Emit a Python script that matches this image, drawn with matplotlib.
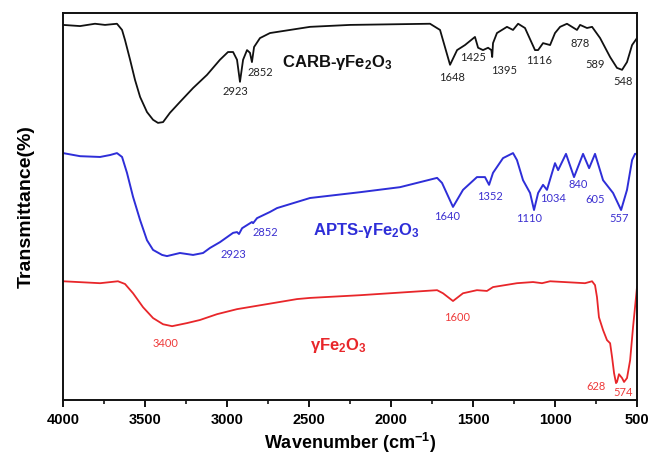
import matplotlib
matplotlib.use("Agg")
import matplotlib.pyplot as plt
from matplotlib.ticker import MultipleLocator

plt.rcParams['font.family'] = ['Liberation Sans', 'DejaVu Sans']
plt.rcParams['mathtext.fontset'] = 'custom'
plt.rcParams['mathtext.rm'] = 'Liberation Sans'
plt.rcParams['mathtext.bf'] = 'Liberation Sans:bold'
plt.rcParams['mathtext.it'] = 'Liberation Sans:italic'

# ---------------- data (wavenumber cm^-1, transmittance arbitrary %) ----------------
carb_wn = [4000, 3896, 3805, 3744, 3671, 3640, 3622, 3591, 3561, 3530, 3488, 3451, 3421,
           3390, 3348, 3287, 3207, 3122, 3043, 2994, 2963, 2939, 2921, 2902, 2878, 2860,
           2848, 2835, 2799, 2738, 2494, 2250, 1762, 1701, 1640,
           1597, 1549, 1488, 1469, 1439, 1408, 1388, 1383, 1378, 1354, 1293, 1256, 1225,
           1183, 1122, 1103, 1073, 1030, 1000, 969, 927, 866, 847, 805, 774, 725, 664,
           622, 591, 561, 530, 500]
carb_t = [96.9, 96.6, 97.2, 96.9, 97.2, 95.6, 93.0, 87.9, 82.7, 78.3, 74.4, 72.4, 71.6,
          71.8, 74.2, 77.0, 80.6, 84.0, 87.9, 89.9, 89.9, 87.9, 82.2, 87.9, 90.4, 89.7,
          87.3, 91.2, 93.5, 94.8, 96.4, 96.9, 97.2, 95.6, 86.6,
          90.4, 91.7, 93.8, 91.0, 90.4, 91.0, 90.4, 88.6, 92.2, 94.8, 96.4, 95.6, 97.2,
          96.1, 90.4, 90.4, 92.2, 91.7, 94.8, 96.4, 97.2, 95.6, 96.9, 96.1, 96.4, 93.5, 88.6,
          85.8, 85.3, 87.3, 91.7, 93.5]

apts_wn = [4000, 3896, 3774, 3713, 3671, 3640, 3610, 3573, 3530, 3488, 3451, 3396, 3366,
           3287, 3207, 3146, 3104, 3043, 2963, 2939, 2927, 2908, 2878, 2848, 2841, 2817,
           2738, 2695, 2494, 2189, 1945, 1719,
           1689, 1622, 1561, 1476, 1427, 1402, 1378, 1317, 1256, 1232, 1195, 1152, 1128,
           1103, 1073, 1049, 1018, 1000, 981, 933, 884, 829, 792, 756, 707, 646, 597, 561,
           530, 512, 500]
apts_t = [63.8, 63.0, 62.8, 63.3, 63.8, 62.8, 58.7, 52.5, 46.5, 41.3, 38.8, 37.5, 37.2,
          38.0, 37.5, 38.0, 39.3, 40.8, 43.2, 43.4, 42.9, 44.4, 45.2, 46.0, 45.7, 47.0,
          48.6, 49.6, 52.2, 53.7, 55.0, 57.4,
          56.1, 49.9, 54.3, 57.6, 57.6, 55.6, 58.7, 62.5, 63.8, 62.0, 56.8, 53.5, 49.1,
          53.5, 55.6, 54.3, 58.7, 61.2, 59.4, 63.6, 57.6, 63.6, 59.9, 63.6, 56.8, 53.5, 49.1, 54.3,
          62.0, 63.6, 63.6]

fe_wn = [4000, 3774, 3665, 3622, 3573, 3512, 3451, 3390, 3335, 3244, 3165, 3061, 2939,
         2756, 2573, 2494, 2189, 1719,
         1683, 1622, 1561, 1476, 1415, 1378, 1232, 1134, 1079, 1030, 817, 774, 756, 744,
         732, 707, 683, 664, 652, 640, 628, 622, 610, 591, 579, 561, 542, 524, 506, 500]
fe_t = [30.7, 30.2, 30.7, 30.0, 27.6, 24.0, 21.2, 19.6, 19.1, 19.9, 20.7, 22.2, 23.5,
        24.8, 26.1, 26.4, 27.1, 28.4,
        27.6, 25.6, 27.6, 28.4, 28.2, 29.2, 30.2, 30.5, 30.2, 30.7, 30.2, 30.7, 29.7, 26.6,
        21.4, 18.1, 15.5, 14.7, 11.1, 7.0, 4.4, 4.7, 6.7, 5.7, 4.7, 5.7, 10.3, 18.9, 26.6, 29.2]

carb_peaks = ["2923", "2852", "1648", "1425", "1395", "1116", "878", "589", "548"]
carb_peak_pos = [(2951, 79.6), (2799, 84.5), (1628, 83.2), (1500, 88.6), (1311, 85.0),
                 (1097, 87.6), (847, 92.2), (756, 86.6), (585, 82.2)]
apts_peaks = ["2923", "2852", "1640", "1352", "1110", "1034", "840", "605", "557"]
apts_peak_pos = [(2963, 37.7), (2768, 43.2), (1658, 47.3), (1396, 52.5), (1158, 46.8),
                 (1012, 52.2), (860, 55.8), (756, 51.9), (609, 46.8)]
fe_peaks = ["3400", "1600", "628", "574"]
fe_peak_pos = [(3372, 14.7), (1597, 21.4), (750, 3.6), (585, 2.1)]

xticks = [4000, 3500, 3000, 2500, 2000, 1500, 1000, 500]

c_black = "#111111"
c_blue = "#2e2ed8"
c_blue_lab = "#3b2fd0"
c_red = "#e8262a"
c_red_lab = "#ee3a3a"

# ---------------- figure ----------------
fig = plt.figure(figsize=(6.51, 4.61), dpi=100)
ax = fig.add_axes([0.0968, 0.132, 0.9785 - 0.0968, 0.972 - 0.132])

ax.plot(carb_wn, carb_t, color=c_black, lw=1.3)
ax.plot(apts_wn, apts_t, color=c_blue, lw=1.4)
ax.plot(fe_wn, fe_t, color=c_red, lw=1.3)

num_font = dict(family=['Lato', 'DejaVu Sans'], fontsize=8, ha='center', va='center')
for s, (x, y) in zip(carb_peaks, carb_peak_pos):
    ax.text(x, y, s, color="#222222", **num_font)
for s, (x, y) in zip(apts_peaks, apts_peak_pos):
    ax.text(x, y, s, color=c_blue_lab, **num_font)
for s, (x, y) in zip(fe_peaks, fe_peak_pos):
    ax.text(x, y, s, color=c_red_lab, **num_font)

ax.text(2665, 87.3, r'CARB-γFe$_\mathbf{2}$O$_\mathbf{3}$', color="#111111",
        fontsize=12, fontweight='bold', ha='left', va='center')
ax.text(2476, 43.9, r'APTS-γFe$_\mathbf{2}$O$_\mathbf{3}$', color=c_blue,
        fontsize=12, fontweight='bold', ha='left', va='center')
ax.text(2494, 14.2, r'γFe$_\mathbf{2}$O$_\mathbf{3}$', color=c_red,
        fontsize=12, fontweight='bold', ha='left', va='center')

ax.set_xlim(4000, 500)
ax.set_ylim(0, 100)
ax.set_xticks(xticks)
ax.set_xticklabels([str(t) for t in xticks], fontweight='bold', fontsize=10.5)
ax.xaxis.set_minor_locator(MultipleLocator(250))
ax.tick_params(axis='x', which='major', direction='out', length=5, width=1.3, pad=4)
ax.tick_params(axis='x', which='minor', direction='out', length=3, width=1.1)
ax.set_yticks([])
for sp in ax.spines.values():
    sp.set_linewidth(1.4)
    sp.set_color('#111111')

ax.set_xlabel(r'Wavenumber (cm$^\mathbf{-1}$)', fontsize=13, fontweight='bold', labelpad=3)
ax.set_ylabel('Transmittance(%)', fontsize=14, fontweight='bold', labelpad=20)

fig.savefig("out.png", dpi=100)
